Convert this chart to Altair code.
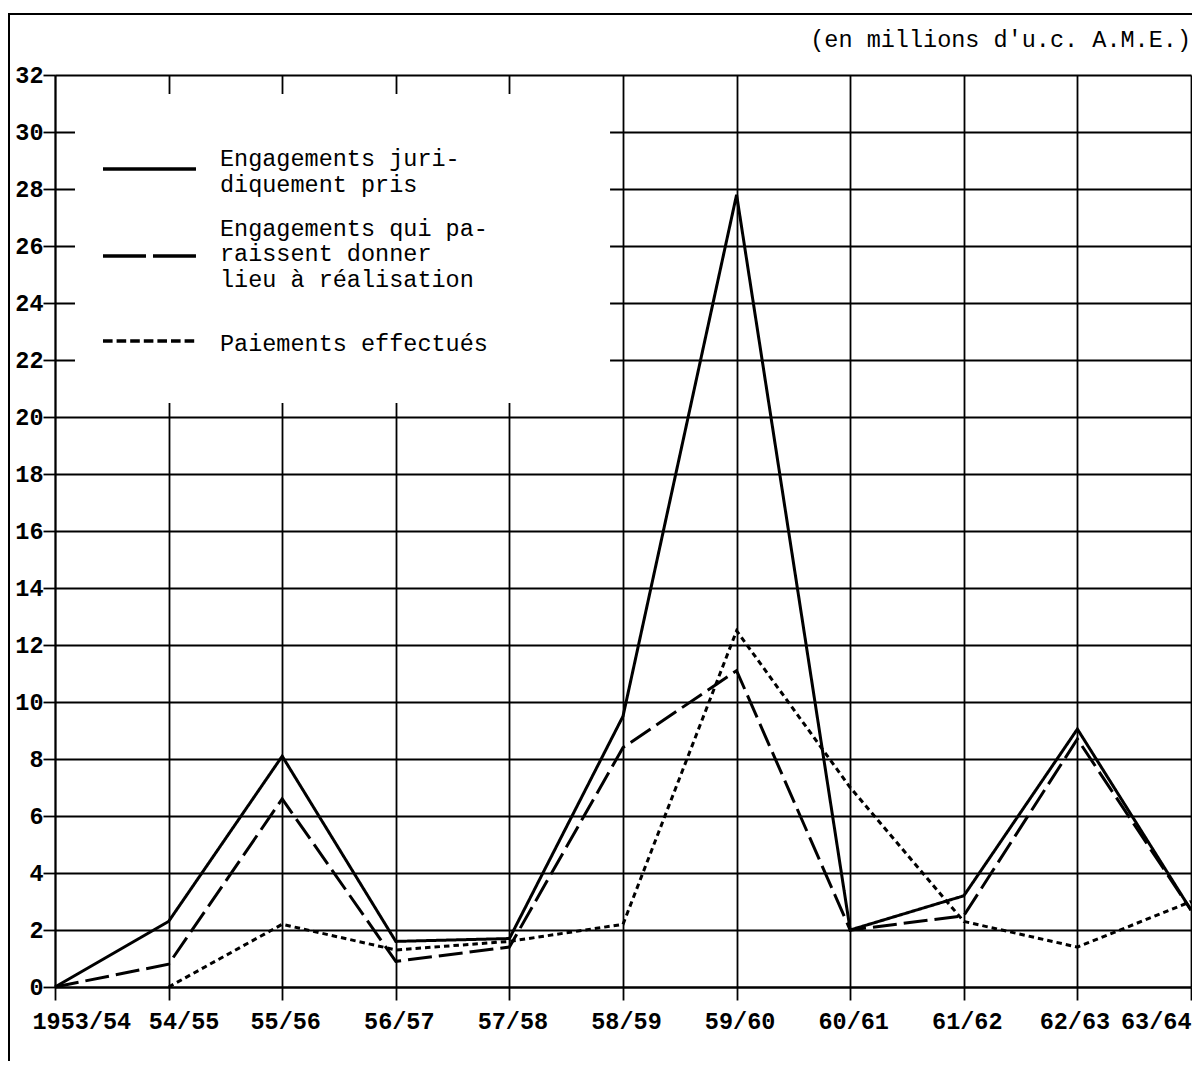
import json
import altair as alt
import pandas as pd

# ---------------- data ----------------
periods = ["1953/54", "54/55", "55/56", "56/57", "57/58", "58/59",
           "59/60", "60/61", "61/62", "62/63", "63/64"]
engagements_juridiques = [0.0, 2.3, 8.1, 1.6, 1.7, 9.5, 27.8, 2.0, 3.2, 9.05, 2.7]
engagements_realisation = [0.0, 0.8, 6.6, 0.9, 1.4, 8.4, 11.1, 2.0, 2.5, 8.7, 2.7]
paiements_effectues = [None, 0.0, 2.2, 1.3, 1.6, 2.2, 12.5, 7.0, 2.3, 1.4, 3.0]
series_names = ["Engagements juridiquement pris",
                "Engagements qui paraissent donner lieu à réalisation",
                "Paiements effectués"]
legend_labels = ["Engagements juri-\ndiquement pris",
                 "Engagements qui pa-\nraissent donner\nlieu à réalisation",
                 "Paiements effectués"]
y_ticks = list(range(0, 33, 2))
subtitle = "(en millions d'u.c. A.M.E.)"

# ---------------- styles / layout ----------------
chart_dashes = [[1, 0], [24, 7], [5.5, 4]]
chart_widths = [3, 3, 3.4]
legend_dashes = [[1, 0], [43, 7], [9.6, 4]]
legend_sample_y = [28.7, 25.65, 22.67]    # legend sample rows (y units)
legend_text_y = [29.05, 26.6, 22.55]      # first text line of each entry (y units)
legend_x = (0.4225, 1.241, 1.452)         # sample start, sample end, text start
box = dict(idx=0.176, idx2=4.886, valeur=20.49, valeur2=31.33)
MONO = "Liberation Mono"

series_values = [engagements_juridiques, engagements_realisation, paiements_effectues]
rows = []
for name, vals in zip(series_names, series_values):
    for i, v in enumerate(vals):
        if v is not None:
            rows.append({"idx": i, "period": periods[i], "serie": name, "valeur": v})
df = pd.DataFrame(rows)

n = len(periods) - 1
xscale = alt.Scale(domain=[0, n], nice=False, zero=False)
yscale = alt.Scale(domain=[0, 32], nice=False, zero=False)

xaxis = alt.Axis(
    values=list(range(len(periods))),
    labelExpr=json.dumps(periods) + "[datum.value]",
    title=None, grid=True, gridColor="black", gridWidth=1.8,
    domain=True, domainColor="black", domainWidth=1.8,
    ticks=True, tickColor="black", tickWidth=1.8, tickSize=13,
    labelFont=MONO, labelFontSize=23.5, labelFontWeight="bold", labelColor="black",
    labelPadding=9,
    labelAlign={"condition": [{"test": "datum.value == 0", "value": "left"},
                              {"test": "datum.value == %d" % n, "value": "right"}],
                "value": "center"},
    labelOffset={"condition": [{"test": "datum.value == 0", "value": -23},
                               {"test": "datum.value == 1", "value": 15},
                               {"test": "datum.value == %d" % (n - 1), "value": -3},
                               {"test": "datum.value == %d" % n, "value": 0}],
                 "value": 3},
)
yaxis = alt.Axis(
    values=y_ticks, title=None, grid=True, gridColor="black", gridWidth=1.8,
    domain=True, domainColor="black", domainWidth=1.8,
    ticks=True, tickColor="black", tickWidth=1.8, tickSize=12,
    labelFont=MONO, labelFontSize=23.5, labelFontWeight="bold", labelColor="black",
    labelPadding=0,
)

X = lambda: alt.X("idx:Q", scale=xscale, axis=xaxis)
Y = lambda: alt.Y("valeur:Q", scale=yscale, axis=yaxis)

frame = alt.Chart(pd.DataFrame([{"k": 1}])).mark_rect(
    fillOpacity=0, stroke="black", strokeWidth=2, clip=False
).encode(x=alt.value(-46), x2=alt.value(1400), y=alt.value(-61), y2=alt.value(1200))

title_text = alt.Chart(pd.DataFrame([{"t": subtitle}])).mark_text(
    align="right", baseline="middle", font=MONO, fontSize=23.5, color="black"
).encode(x=alt.value(1136), y=alt.value(-35), text="t:N")

white_box = alt.Chart(pd.DataFrame([box])).mark_rect(color="white").encode(
    x=X(), x2="idx2:Q", y=Y(), y2="valeur2:Q")

lines = alt.Chart(df).mark_line(color="black").encode(
    x=X(), y=Y(),
    strokeDash=alt.StrokeDash("serie:N",
                              scale=alt.Scale(domain=series_names, range=chart_dashes),
                              legend=None),
    strokeWidth=alt.StrokeWidth("serie:N",
                                scale=alt.Scale(domain=series_names, range=chart_widths),
                                legend=None),
)

legend_layers = []
for name, lab, dash, sy, ty in zip(series_names, legend_labels, legend_dashes,
                                   legend_sample_y, legend_text_y):
    d = pd.DataFrame([{"idx": legend_x[0], "idx2": legend_x[1], "valeur": sy,
                       "tx": legend_x[2], "ty": ty, "label": lab}])
    legend_layers.append(
        alt.Chart(d).mark_rule(color="black", strokeWidth=3.5, strokeDash=dash).encode(
            x=X(), x2="idx2:Q", y=Y()))
    legend_layers.append(
        alt.Chart(d).mark_text(align="left", baseline="middle", lineBreak="\n",
                               font=MONO, fontSize=23.5, lineHeight=25.5,
                               color="black").encode(
            x=alt.X("tx:Q", scale=xscale, axis=xaxis),
            y=alt.Y("ty:Q", scale=yscale, axis=yaxis), text="label:N"))

chart = alt.layer(frame, title_text, white_box, lines, *legend_layers).properties(
    width=1136, height=912,
    autosize=alt.AutoSizeParams(type="none"),
    padding={"left": 47, "top": 67, "right": 1, "bottom": 74},
).configure_view(stroke="black", strokeWidth=2).configure(background="white")

chart.save("out.html", embed_options={"renderer": "svg", "actions": False})
